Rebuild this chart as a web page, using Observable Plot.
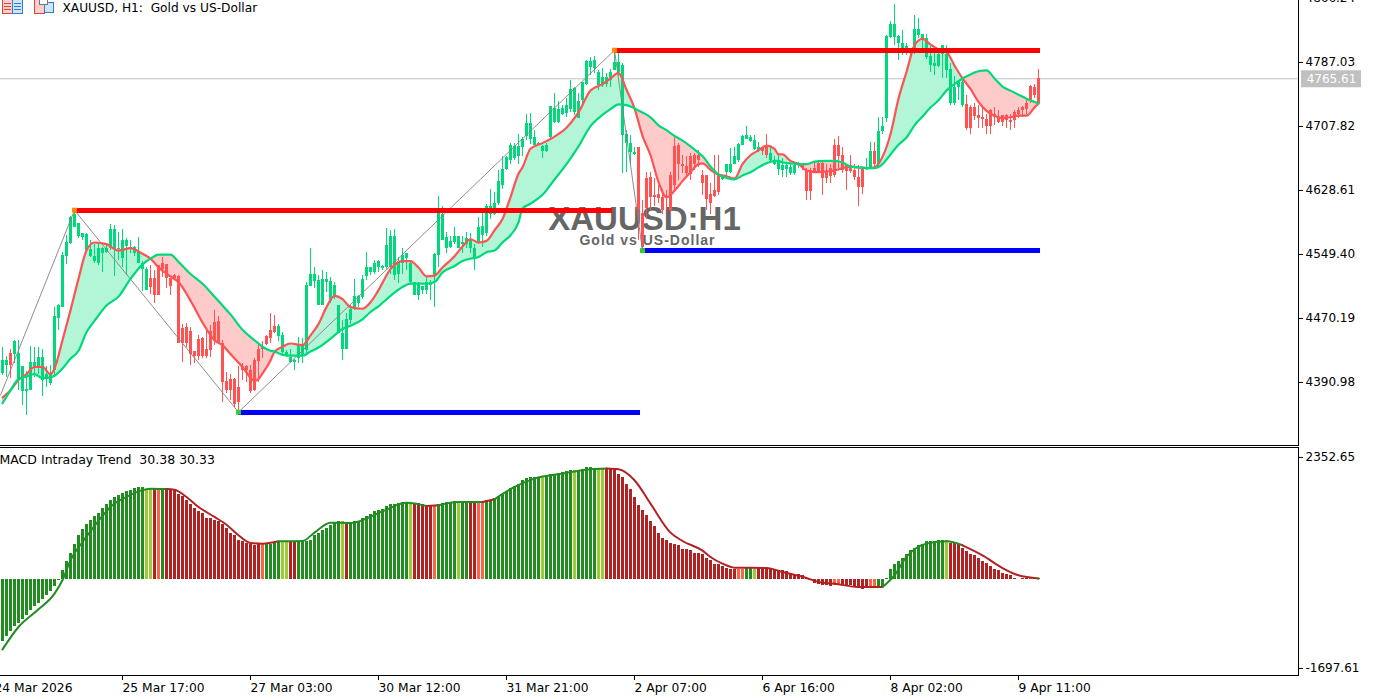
<!DOCTYPE html>
<html>
<head>
<meta charset="utf-8">
<script src="https://cdn.jsdelivr.net/npm/d3@7"></script>
<script src="https://cdn.jsdelivr.net/npm/@observablehq/plot@0.6"></script>
<style>
html,body{margin:0;padding:0;background:#fff;overflow:hidden}
#page{position:relative;width:1375px;height:699px}
#icons{position:absolute;left:0;top:0;z-index:2}
svg{display:block}
.wm-sub text{letter-spacing:1px}
</style>
</head>
<body>
<div id="page">
<svg id="icons" width="60" height="14" shape-rendering="crispEdges">
  <rect x="2.5" y="-1" width="10" height="14" fill="#fbd0cc" stroke="#e0433a"/>
  <rect x="12.5" y="-1" width="10" height="14" fill="#cfe4f7" stroke="#2f7fc8"/>
  <path d="M4 3h7M4 6h7M4 9h7" stroke="#e0433a"/><path d="M14 3h7M14 6h7M14 9h7" stroke="#2f7fc8"/>
  <rect x="34.5" y="-1" width="10" height="14" fill="#fbd0cc" stroke="#e0433a"/>
  <rect x="44.5" y="2.5" width="9" height="10" fill="#cfe4f7" stroke="#2f7fc8"/>
  <rect x="39" y="-1" width="8" height="5" fill="#fff" stroke="#777"/>
</svg>
<div id="chart"></div>
</div>
<script>
// Candles, one entry per hourly bar
const high = [
4433,4422,4430,4442,4442,4409,4403,4434,4433,4433,
4431,4409,4411,4483,4486,4551,4572,4595,4602,4586,
4574,4574,4566,4560,4563,4557,4559,4585,4584,4575,
4579,4568,4565,4558,4569,4539,4532,4534,4528,4534,
4545,4536,4518,4524,4522,4462,4463,4458,4428,4448,
4446,4458,4460,4479,4471,4442,4402,4400,4395,4409,
4413,4411,4411,4419,4438,4440,4448,4475,4473,4462,
4451,4429,4431,4418,4446,4444,4514,4555,4532,4522,
4528,4526,4520,4514,4485,4466,4475,4485,4517,4497,
4522,4551,4532,4541,4541,4535,4580,4578,4579,4545,
4556,4549,4541,4514,4514,4508,4520,4516,4549,4620,
4608,4576,4570,4581,4570,4570,4575,4574,4561,4594,
4605,4610,4629,4625,4652,4669,4669,4686,4685,4697,
4693,4722,4723,4702,4687,4683,4685,4731,4747,4737,
4733,4741,4763,4755,4747,4761,4788,4792,4793,4776,
4778,4772,4777,4799,4797,4785,4702,4695,4681,4681,
4615,4650,4650,4642,4634,4629,4627,4650,4695,4685,
4671,4669,4673,4673,4677,4652,4646,4636,4671,4671,
4646,4660,4679,4681,4685,4695,4707,4695,4695,4687,
4681,4697,4681,4669,4673,4667,4660,4660,4662,4662,
4660,4654,4654,4662,4664,4662,4660,4660,4691,4694,
4681,4660,4671,4660,4658,4654,4667,4687,4687,4718,
4718,4819,4836,4858,4819,4825,4809,4803,4844,4840,
4821,4821,4805,4803,4801,4807,4807,4784,4768,4763,
4763,4745,4733,4735,4733,4730,4722,4728,4730,4726,
4720,4722,4722,4726,4730,4731,4739,4757,4759,4777];
const bodyTop = [
4417,4417,4426,4440,4426,4409,4381,4415,4415,4421,
4421,4400,4400,4471,4485,4547,4563,4594,4598,4586,
4574,4573,4554,4546,4555,4555,4556,4579,4579,4556,
4566,4566,4557,4557,4551,4537,4530,4518,4518,4534,
4537,4536,4518,4522,4521,4456,4458,4453,4428,4443,
4444,4430,4453,4464,4465,4438,4391,4394,4394,4384,
4410,4409,4405,4417,4431,4433,4447,4454,4459,4459,
4448,4427,4421,4417,4435,4435,4510,4524,4524,4516,
4517,4517,4515,4510,4485,4450,4468,4480,4496,4496,
4517,4532,4532,4537,4539,4533,4559,4570,4570,4539,
4547,4549,4537,4513,4512,4508,4514,4514,4548,4599,
4598,4569,4564,4570,4570,4563,4568,4565,4555,4582,
4583,4608,4607,4611,4639,4653,4668,4683,4682,4682,
4691,4710,4710,4693,4686,4682,4683,4731,4729,4728,
4729,4733,4752,4753,4738,4761,4787,4787,4788,4774,
4767,4767,4774,4786,4786,4782,4697,4686,4675,4680,
4599,4642,4643,4621,4622,4619,4619,4646,4682,4683,
4660,4657,4669,4671,4671,4646,4646,4622,4627,4646,
4646,4659,4660,4669,4684,4694,4695,4693,4689,4680,
4679,4681,4673,4664,4662,4658,4658,4656,4658,4660,
4658,4652,4652,4654,4661,4661,4650,4654,4683,4683,
4671,4658,4658,4652,4644,4653,4656,4676,4676,4700,
4707,4818,4833,4833,4818,4809,4805,4801,4827,4827,
4820,4815,4793,4784,4796,4807,4796,4777,4755,4761,
4761,4734,4730,4730,4720,4718,4715,4726,4722,4718,
4720,4720,4714,4724,4726,4730,4735,4756,4755,4766];
const bodyBottom = [
4401,4411,4411,4425,4394,4378,4378,4380,4407,4409,
4392,4394,4388,4405,4469,4483,4546,4562,4582,4570,
4569,4553,4546,4539,4537,4550,4551,4555,4554,4554,
4543,4558,4554,4549,4537,4530,4504,4507,4497,4497,
4529,4519,4508,4518,4438,4438,4438,4425,4422,4422,
4422,4422,4429,4442,4439,4390,4380,4380,4363,4365,
4405,4405,4378,4380,4416,4431,4437,4444,4452,4447,
4427,4423,4414,4414,4419,4423,4429,4509,4515,4485,
4485,4514,4490,4495,4450,4431,4431,4467,4481,4487,
4495,4521,4526,4526,4532,4531,4532,4532,4522,4524,
4537,4543,4514,4497,4497,4503,4504,4510,4522,4547,
4566,4555,4557,4563,4555,4561,4561,4555,4545,4563,
4572,4574,4598,4598,4611,4634,4653,4665,4667,4669,
4681,4694,4691,4683,4684,4676,4676,4693,4712,4712,
4722,4723,4728,4724,4717,4739,4759,4779,4778,4757,
4757,4759,4763,4776,4774,4695,4686,4675,4672,4603,
4557,4605,4619,4619,4618,4603,4617,4603,4634,4660,
4657,4649,4647,4660,4664,4636,4616,4611,4620,4625,
4641,4650,4650,4660,4665,4683,4691,4688,4678,4677,
4676,4671,4664,4660,4653,4652,4653,4648,4648,4658,
4654,4626,4626,4650,4650,4642,4642,4645,4646,4669,
4652,4651,4651,4643,4631,4631,4654,4656,4660,4660,
4700,4716,4817,4817,4809,4801,4799,4798,4803,4819,
4815,4792,4782,4781,4781,4796,4776,4735,4735,4755,
4733,4704,4704,4719,4717,4715,4706,4706,4718,4711,
4711,4714,4711,4714,4722,4726,4728,4737,4745,4735];
const low = [
4398,4396,4395,4413,4380,4361,4349,4380,4396,4400,
4372,4384,4386,4396,4454,4482,4536,4561,4582,4568,
4565,4553,4545,4537,4534,4526,4549,4553,4521,4541,
4532,4522,4549,4546,4537,4502,4504,4499,4488,4497,
4520,4506,4497,4518,4438,4415,4433,4411,4413,4417,
4419,4419,4421,4436,4438,4365,4376,4367,4359,4353,
4392,4390,4376,4378,4390,4419,4435,4438,4450,4440,
4423,4421,4413,4405,4413,4413,4423,4508,4506,4485,
4485,4501,4487,4493,4450,4417,4431,4462,4479,4483,
4493,4516,4522,4524,4526,4528,4530,4524,4516,4512,
4524,4528,4512,4497,4491,4499,4499,4491,4483,4532,
4565,4549,4555,4561,4555,4549,4555,4549,4528,4561,
4557,4570,4592,4596,4609,4629,4652,4660,4664,4660,
4669,4689,4684,4683,4683,4667,4675,4691,4710,4710,
4720,4718,4724,4720,4716,4731,4757,4770,4772,4751,
4755,4755,4755,4776,4768,4648,4650,4660,4671,4565,
4553,4592,4603,4607,4611,4598,4603,4598,4627,4640,
4648,4642,4640,4652,4656,4621,4603,4598,4619,4621,
4640,4644,4648,4660,4662,4683,4690,4687,4677,4675,
4671,4667,4662,4658,4646,4644,4644,4646,4646,4654,
4652,4615,4615,4648,4648,4621,4636,4636,4644,4654,
4648,4627,4648,4640,4607,4623,4652,4654,4654,4656,
4697,4712,4815,4807,4788,4794,4794,4794,4796,4815,
4801,4790,4774,4770,4780,4766,4766,4733,4733,4739,
4730,4702,4697,4714,4704,4704,4697,4697,4708,4710,
4706,4704,4702,4704,4716,4718,4722,4735,4741,4733];
// Candle colour follows the trend: [state, number of bars]
const trendRuns = [["up",2],["down",1],["up",34],["down",32],["up",90],["down",21],["up",10],["down",2],["up",8],["down",16],["up",2],["down",1],["up",22],["down",19]];
const trendColors = {up:"#00D97A", down:"#FF5252"};

// Moving-average ribbon, read at selected bars
const maBar = [0,2,4,6,8,10,12,13,15,17,19,21,23,26,29,32,35,37,39,42,44,47,50,53,55,57,60,63,64,
65,67,68,70,72,75,77,79,81,83,85,87,90,92,94,97,100,102,104,106,108,110,113,115,117,119,121,123,125,127,129,
130,132,135,138,141,144,147,150,152,154,156,158,160,162,164,166,168,170,172,174,175,177,179,181,183,185,187,189,191,193,194,
195,197,199,201,203,206,208,210,212,214,216,218,220,222,224,226,228,230,232,234,236,238,240,242,244,246,248,250,252,254,256,258,259];
const maFast = [4371,4380,4393,4400,4409,4409,4400,4407,4442,4479,4518,4553,4563,4561,4553,4556,4549,4543,4532,4521,4514,4491,4464,4442,4436,4425,4409,4392,4394,
4401,4417,4428,4434,4438,4436,4448,4462,4483,4497,4493,4483,4481,4489,4504,4530,4540,4540,4532,4521,4522,4532,4546,4558,4567,4563,4565,4578,4592,4619,4648,
4656,4679,4686,4694,4705,4724,4751,4759,4766,4773,4752,4729,4695,4671,4638,4619,4627,4639,4650,4660,4661,4653,4647,4645,4642,4660,4671,4677,4683,4679,4672,
4672,4664,4660,4652,4650,4651,4652,4655,4657,4656,4655,4656,4669,4697,4741,4774,4807,4815,4808,4802,4799,4782,4766,4753,4737,4726,4720,4717,4718,4720,4720,4730,4735];
const maSlow = [4364,4380,4394,4397,4400,4395,4396,4398,4407,4419,4429,4452,4466,4485,4496,4518,4536,4543,4548,4548,4539,4524,4512,4496,4485,4474,4455,4442,4438,
4434,4429,4428,4424,4423,4423,4428,4433,4440,4448,4456,4460,4468,4477,4484,4497,4508,4512,4512,4512,4514,4526,4534,4540,4543,4545,4551,4553,4563,4572,4588,
4605,4611,4622,4641,4660,4682,4707,4721,4728,4734,4733,4729,4724,4718,4708,4702,4695,4689,4682,4674,4670,4657,4647,4643,4641,4646,4650,4656,4661,4664,4664,
4662,4661,4660,4660,4663,4664,4664,4662,4657,4656,4655,4655,4660,4672,4684,4693,4708,4719,4730,4739,4751,4759,4766,4771,4775,4776,4766,4756,4751,4746,4741,4737,4735];

// Zigzag and its levels
const zigBar = [-0.5,18,59,153,160];
const zigPrice = [4374,4603,4353,4801,4553];
const levelPrice = [4603,4353,4801,4553];
const levelFrom = [18,59,153,160];
const levelTo = [152.5,159.5,259.5,259.5];
const levelColor = ["#FF0000","#0000FF","#FF0000","#0000FF"];
const pivotColor = ["#FF8C00","#32CD32","#FF8C00","#32CD32"];

const priceTicks = [4866.24,4787.03,4707.82,4628.61,4549.40,4470.19,4390.98];
const lastPrice = 4765.61;

// MACD histogram
const macd = [
-1171,-1075,-979,-902,-826,-749,-672,-595,-518,-442,
-365,-288,-230,-134,-19,173,346,518,691,845,
960,1056,1133,1210,1286,1363,1440,1517,1574,1613,
1651,1690,1709,1747,1766,1776,1728,1728,1728,1728,
1728,1728,1728,1709,1632,1594,1517,1440,1382,1306,
1267,1190,1171,1133,1114,1056,979,902,845,749,
730,710,672,662,672,672,691,691,710,730,
730,730,730,730,730,730,730,749,845,902,
941,998,1037,1075,1114,1114,1075,1094,1114,1114,
1171,1210,1248,1306,1325,1344,1402,1440,1440,1459,
1478,1478,1440,1459,1459,1440,1434,1402,1402,1440,
1459,1478,1478,1498,1478,1498,1498,1498,1498,1498,
1498,1517,1517,1555,1594,1632,1670,1747,1786,1824,
1901,1939,1958,1958,1958,1958,1997,2016,2016,2035,
2054,2074,2093,2093,2093,2112,2150,2150,2131,2131,
2131,2131,2131,2131,2016,1958,1824,1728,1574,1421,
1325,1229,1114,1018,902,806,749,710,691,653,
595,576,557,518,509,499,422,365,307,288,
250,230,211,211,211,211,230,230,211,230,
230,230,230,192,173,173,154,134,115,96,
77,38,19,-58,-77,-96,-96,-134,-96,-96,
-115,-115,-115,-134,-154,-173,-163,-134,-134,-134,
-134,38,192,288,346,422,480,557,614,653,
691,730,730,730,749,749,749,710,710,691,
614,538,499,461,422,346,326,250,211,173,
134,96,77,38,19,25,30,30,30,30];
const macdRuns = [["G",36],["L",2],["R",1],["T",1],["G",1],["R",24],["T",1],["G",4],["L",2],["R",2],["G",11],["L",1],["R",1],["G",15],["L",1],["R",5],["T",1],["G",5],["L",1],["G",2],["R",2],["T",2],["G",14],["L",1],["G",7],["L",1],["G",5],["L",2],["R",33],["T",2],["G",2],["L",1],["R",19],["T",2],["R",7],["T",2],["G",17],["L",1],["R",20],["T",1],["R",1],["G",1]];
const macdColors = {G:"#228B22",L:"#9ACD32",R:"#B22222",T:"#FF6347"};
const signalBar = [0,4,9,13,15,17,20,22,25,27,31,34,37,41,43,46,49,53,56,59,62,65,69,75,78,82,87,95,101,106,109,114,120,123,128,133,140,147,151,154,158,162,167,170,175,177,180,183,191,195,201,204,208,214,220,223,226,231,236,240,245,250,254,259];
const signalValue = [-1331,-902,-563,-262,0,378,730,934,1229,1402,1594,1702,1753,1747,1734,1594,1402,1210,1062,858,710,698,742,749,909,1100,1094,1318,1485,1421,1434,1498,1498,1549,1786,1945,2042,2125,2138,2125,1914,1466,909,749,563,442,314,237,230,154,38,-38,-70,-134,-134,90,442,698,742,666,474,230,90,30];
const macdTicks = [2352.65,-1697.61];

// Time axis
const dateBars = [-2,30,62,94,126,158,190,222,254];
const dateLabels = ["24 Mar 2026","25 Mar 17:00","27 Mar 03:00","30 Mar 12:00","31 Mar 21:00","2 Apr 07:00","6 Apr 16:00","8 Apr 02:00","9 Apr 11:00"];

const chartTitle = "XAUUSD, H1:\u00A0\u00A0Gold vs US-Dollar";
const macdTitle = "MACD Intraday Trend\u00A0\u00A030.38 30.33";
const watermark = "XAUUSD:H1";
const watermarkSub = "Gold vs US-Dollar";

const expand = runs => runs.flatMap(([s,n]) => Array(n).fill(s));
const trend = expand(trendRuns);
const macdState = expand(macdRuns);

const bars = d3.range(260).map(i => ({i, high:high[i], low:low[i], top:bodyTop[i], bottom:bodyBottom[i],
  color:trendColors[trend[i]], macd:macd[i], macdColor:macdColors[macdState[i]]}));
const ma = maBar.map((b,i)=>({b, fast:maFast[i], slow:maSlow[i]}));
const signal = signalBar.map((b,i)=>({b, v:signalValue[i],
  color:(macdState[b]==="G"||macdState[b]==="L")?"#228B22":"#B22222"}));
const zig = zigBar.map((b,i)=>({b,p:zigPrice[i]}));
const levels = levelPrice.map((p,i)=>({p,from:levelFrom[i],to:levelTo[i],color:levelColor[i],pivot:pivotColor[i]}));

const axisFont = "DejaVu Sans";
const xScale = {domain:[-0.5,324], range:[0,1298], axis:null};
const paneStyle = {fontFamily:axisFont, fontSize:"12px", background:"#fff", color:"#000", overflow:"hidden"};
const smooth = "monotone-x";

const pricePane = Plot.plot({
  width:1375, height:446, marginLeft:0, marginRight:77, marginTop:0, marginBottom:1,
  style:paneStyle, x:xScale, y:{domain:[4862.53,4311.75], range:[0,445], axis:null},
  marks:[
    Plot.ruleY([lastPrice],{stroke:"#C0C0C0", strokeWidth:1}),
    Plot.text([watermark],{x:[160.5],y:[4591],text:d=>d,fontSize:33,fontWeight:"bold",fontFamily:"Liberation Sans",fill:"#666666"}),
    Plot.text([watermarkSub],{x:[161.25],y:[4565],text:d=>d,fontSize:14,fontWeight:"bold",fontFamily:"Liberation Sans",fill:"#666666",className:"wm-sub"}),
    Plot.areaY(ma,{x:"b",y1:"slow",y2:d=>Math.max(d.fast,d.slow),fill:"#B2F5D7",curve:smooth}),
    Plot.areaY(ma,{x:"b",y1:d=>Math.min(d.fast,d.slow),y2:"slow",fill:"#FFCACA",curve:smooth}),
    Plot.ruleX(bars,{x:"i",y1:"low",y2:"high",stroke:"color",strokeWidth:1,shapeRendering:"crispEdges"}),
    Plot.ruleX(bars,{x:"i",y1:"bottom",y2:"top",stroke:"color",strokeWidth:3,shapeRendering:"crispEdges"}),
    Plot.line(zig,{x:"b",y:"p",stroke:"#808080",strokeWidth:0.9}),
    Plot.line(ma,{x:"b",y:"fast",stroke:"#FF5252",strokeWidth:2.2,curve:smooth}),
    Plot.line(ma,{x:"b",y:"slow",stroke:"#00D97A",strokeWidth:2.2,curve:smooth}),
    Plot.ruleY(levels,{y:"p",x1:"from",x2:"to",stroke:"color",strokeWidth:5,shapeRendering:"crispEdges"}),
    Plot.dot(levels,{x:"from",y:"p",symbol:"square",r:2.8,fill:"pivot"}),
    Plot.axisY({anchor:"right",ticks:priceTicks,tickFormat:d=>d.toFixed(2),tickSize:4,tickPadding:3,label:null,fontSize:12,dy:1}),
    Plot.frame({anchor:"right",stroke:"#000"}),
    Plot.frame({anchor:"bottom",stroke:"#000"}),
    Plot.ruleY([lastPrice],{x1:324.75,x2:339.75,stroke:"#C0C0C0",strokeWidth:17}),
    Plot.text([lastPrice],{x:[332.25],y:[lastPrice],text:d=>d.toFixed(2),fill:"#fff",fontSize:12}),
    Plot.text([chartTitle],{frameAnchor:"top-left",dx:62,dy:3,text:d=>d,fontSize:12.2,fill:"#000",textAnchor:"start"})
  ]
});

const macdPane = Plot.plot({
  width:1375, height:253, marginLeft:0, marginRight:77, marginTop:1, marginBottom:24,
  style:paneStyle, x:xScale, y:{domain:[2543.3,-1833.1], range:[1,229], axis:null},
  marks:[
    Plot.ruleX(bars,{x:"i",y1:0,y2:"macd",stroke:"macdColor",strokeWidth:3,shapeRendering:"crispEdges"}),
    Plot.line(signal,{x:"b",y:"v",z:null,stroke:"color",strokeWidth:2,curve:smooth}),
    Plot.axisY({anchor:"right",ticks:macdTicks,tickFormat:d=>d.toFixed(2),tickSize:4,tickPadding:3,label:null,fontSize:12}),
    Plot.axisX({anchor:"bottom",ticks:dateBars,tickFormat:b=>dateLabels[dateBars.indexOf(b)],tickSize:5,tickPadding:3,textAnchor:"start",label:null,fontSize:12.3}),
    Plot.frame({anchor:"right",stroke:"#000"}),
    Plot.frame({anchor:"top",stroke:"#000"}),
    Plot.frame({anchor:"bottom",stroke:"#000"}),
    Plot.text([macdTitle],{frameAnchor:"top-left",dx:-1,dy:8,text:d=>d,fontSize:12.5,fill:"#000",textAnchor:"start"})
  ]
});
document.getElementById("chart").append(pricePane,macdPane);
</script>
</body>
</html>
